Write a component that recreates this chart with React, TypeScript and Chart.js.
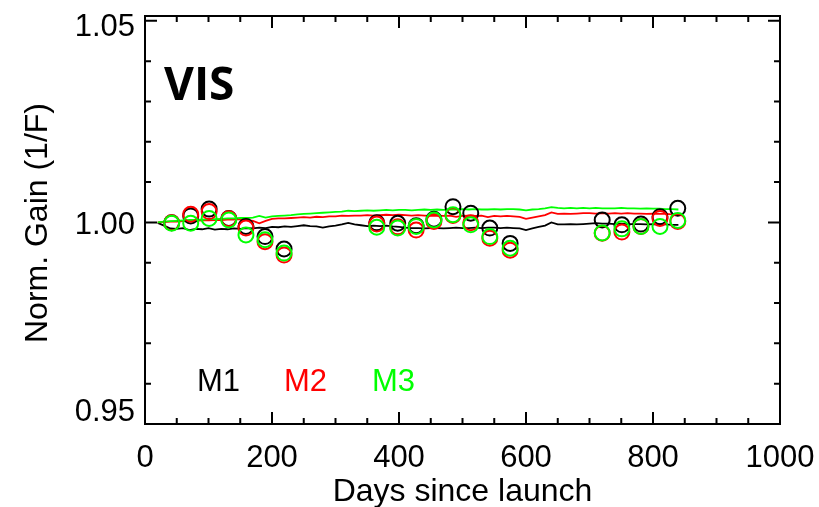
import React, { useEffect, useRef } from "react";
import { Chart, registerables } from "chart.js";

Chart.register(...registerables);

// Daily trend of the normalised gain for the three VIS mirrors (sampled every 10 days)
const lineDays = [
  20, 30, 40, 50, 60, 70, 80, 90, 100, 110, 120, 130, 140, 150, 160, 170, 180, 190, 200, 210,
  220, 230, 240, 250, 260, 270, 280, 290, 300, 310, 320, 330, 340, 350, 360, 370, 380, 390, 400, 410,
  420, 430, 440, 450, 460, 470, 480, 490, 500, 510, 520, 530, 540, 550, 560, 570, 580, 590, 600, 610,
  620, 630, 640, 650, 660, 670, 680, 690, 700, 710, 720, 730, 740, 750, 760, 770, 780, 790, 800, 810,
  820, 830, 840,
];

const m1Line = [
  0.9999, 0.9992, 0.9985, 0.9984, 0.9986, 0.9981, 0.9984, 0.9983, 0.9986, 0.9982, 0.9984, 0.9983, 0.9985, 0.9984, 0.9986, 0.9985, 0.9987, 0.9986, 0.9989, 0.9988,
  0.999, 0.9989, 0.9991, 0.9993, 0.9991, 0.999, 0.9987, 0.999, 0.9992, 0.9995, 0.9999, 0.9995, 0.9993, 0.9991, 0.9992, 0.9991, 0.9992, 0.999, 0.9989, 0.9987,
  0.9986, 0.9986, 0.9985, 0.9986, 0.9986, 0.9985, 0.9986, 0.9987, 0.9986, 0.9986, 0.9987, 0.9986, 0.9987, 0.9987, 0.9986, 0.9987, 0.9986, 0.9985, 0.9981, 0.9985,
  0.9989, 0.9992, 1.0, 0.9995, 0.9995, 0.9996, 0.9995, 0.9996, 0.9997, 0.9998, 0.9997, 0.9997, 0.9996, 0.9997, 0.9996, 0.9996, 0.9996, 0.9995, 0.9996, 0.9995,
  0.9995, 0.9994, 0.9994,
];

const m2Line = [
  1.0, 1.0001, 1.0002, 1.0002, 1.0003, 1.0003, 1.0004, 1.0005, 1.0005, 1.0006, 1.0006, 1.0007, 1.0007, 1.0008, 1.0006, 1.0004, 0.9998, 1.0004, 1.0009, 1.001,
  1.001, 1.0011, 1.0012, 1.0013, 1.0012, 1.0014, 1.0013, 1.0015, 1.0015, 1.0017, 1.0016, 1.0017, 1.0017, 1.0018, 1.0017, 1.0018, 1.0019, 1.0018, 1.0019, 1.0018,
  1.0017, 1.0018, 1.0017, 1.0016, 1.0017, 1.0016, 1.0017, 1.0014, 1.0016, 1.0017, 1.0016, 1.0017, 1.0013, 1.0016, 1.0015, 1.0016, 1.0015, 1.0014, 1.0009, 1.0012,
  1.0015, 1.0018, 1.0025, 1.0021, 1.0022, 1.0021, 1.0022, 1.0023, 1.0023, 1.0022, 1.0023, 1.0022, 1.0023, 1.0022, 1.0023, 1.0022, 1.0022, 1.0021, 1.0022, 1.0021,
  1.0021, 1.002, 1.002,
];

const m3Line = [
  1.0, 1.0002, 1.0003, 1.0004, 1.0005, 1.0006, 1.0006, 1.0007, 1.0008, 1.0008, 1.0009, 1.001, 1.001, 1.0011, 1.0011, 1.0012, 1.0016, 1.0012, 1.0015, 1.0016,
  1.0017, 1.0018, 1.002, 1.0021, 1.0022, 1.0023, 1.0024, 1.0025, 1.0026, 1.0027, 1.0029, 1.0028, 1.0029, 1.003, 1.0029, 1.003, 1.0031, 1.003, 1.0031, 1.0031,
  1.003, 1.0031, 1.0032, 1.0031, 1.0032, 1.0031, 1.0032, 1.0032, 1.0033, 1.0032, 1.0033, 1.0032, 1.0032, 1.0033, 1.0032, 1.0033, 1.0033, 1.0032, 1.003, 1.0032,
  1.0033, 1.0035, 1.0038, 1.0036, 1.0035, 1.0036, 1.0035, 1.0036, 1.0035, 1.0036, 1.0035, 1.0035, 1.0035, 1.0036, 1.0035, 1.0035, 1.0034, 1.0035, 1.0034, 1.0034,
  1.0033, 1.0033, 1.0032,
];

// Individual calibration measurements (drawn as open circles)
const calDays = [42, 72, 101, 132, 159, 189, 219, 365, 398, 427, 455, 485, 513, 543, 575, 720, 751, 781, 811, 839];
const m1Cal = [0.9999, 1.0016, 1.0033, 1.001, 0.999, 0.9965, 0.9934, 0.9999, 0.9998, 0.9992, 1.0008, 1.0039, 1.0023, 0.9986, 0.9948, 1.0006, 0.9994, 0.9996, 1.0014, 1.0035];
const m2Cal = [0.9999, 1.002, 1.0027, 1.0009, 0.9986, 0.9952, 0.9919, 0.9996, 0.9989, 0.9981, 1.0002, 1.0017, 0.9999, 0.9961, 0.9931, 0.9973, 0.9976, 0.999, 1.001, 1.0002];
const m3Cal = [0.9998, 0.9998, 1.001, 1.0006, 0.9969, 0.9957, 0.9924, 0.9988, 0.9986, 0.999, 1.0006, 1.0019, 0.9994, 0.9965, 0.9936, 0.9974, 0.9984, 0.999, 0.999, 1.0005];

const seriesNames = ["M1", "M2", "M3"];
const seriesColors = ["#000000", "#ff0000", "#00ff00"];

const xMajorTicks = [0, 200, 400, 600, 800, 1000];
const xMinorTicks = [50, 100, 150, 250, 300, 350, 450, 500, 550, 650, 700, 750, 850, 900, 950];
const yMajorTicks = [0.95, 1.0, 1.05];
const yMajorLabels = ["0.95", "1.00", "1.05"];
const yMinorTicks = [0.96, 0.97, 0.98, 0.99, 1.01, 1.02, 1.03, 1.04];

const panelTitle = "VIS";
const xTitle = "Days since launch";
const yTitle = "Norm. Gain (1/F)";

const TICK_FONT = '31px "Liberation Sans", Arial, Helvetica, sans-serif';
const TITLE_FONT = '32px "Liberation Sans", Arial, Helvetica, sans-serif';

const toPoints = (xs: number[], ys: number[]) => xs.map((x, i) => ({ x, y: ys[i] }));

// Frame, inward tick marks, labels and annotations in the IDL plot style
const framePlugin = {
  id: "idlFrame",
  afterDraw(chart: any) {
    const { ctx, chartArea, scales } = chart;
    const { left, right, top, bottom } = chartArea;
    const xs = scales.x;
    const ys = scales.y;
    const major = 12;
    const minor = 6;
    ctx.save();
    ctx.strokeStyle = "#000";
    ctx.lineWidth = 2;
    ctx.strokeRect(left, top, right - left, bottom - top);

    ctx.beginPath();
    const xTick = (v: number, len: number) => {
      const px = xs.getPixelForValue(v);
      ctx.moveTo(px, bottom);
      ctx.lineTo(px, bottom - len);
      ctx.moveTo(px, top);
      ctx.lineTo(px, top + len);
    };
    const yTick = (v: number, len: number) => {
      const py = ys.getPixelForValue(v);
      ctx.moveTo(left, py);
      ctx.lineTo(left + len, py);
      ctx.moveTo(right, py);
      ctx.lineTo(right - len, py);
    };
    xMajorTicks.forEach((v) => xTick(v, major));
    xMinorTicks.forEach((v) => xTick(v, minor));
    yMajorTicks.forEach((v) => yTick(v, major));
    yMinorTicks.forEach((v) => yTick(v, minor));
    ctx.stroke();

    ctx.fillStyle = "#000";
    ctx.font = TICK_FONT;
    ctx.textBaseline = "alphabetic";
    ctx.textAlign = "center";
    xMajorTicks.forEach((v) => {
      ctx.fillText(String(v), xs.getPixelForValue(v), bottom + 43);
    });

    ctx.textAlign = "right";
    const yLabelShift = [-3, 11.5, 15.3];
    yMajorTicks.forEach((v, i) => {
      ctx.fillText(yMajorLabels[i], left - 10, ys.getPixelForValue(v) + yLabelShift[i]);
    });

    ctx.font = TITLE_FONT;
    ctx.textAlign = "center";
    ctx.fillText(xTitle, (left + right) / 2, 501);

    ctx.save();
    ctx.translate(47, (top + bottom) / 2 + 3);
    ctx.rotate(-Math.PI / 2);
    ctx.fillText(yTitle, 0, 0);
    ctx.restore();

    ctx.textAlign = "left";
    ctx.font = 'bold 46px "Open Sans", "Liberation Sans", Arial, sans-serif';
    ctx.fillText(panelTitle, 164, 100);

    ctx.font = TICK_FONT;
    const legendX = [197, 284, 372];
    seriesNames.forEach((name, i) => {
      ctx.fillStyle = seriesColors[i];
      ctx.fillText(name, legendX[i], 391);
    });
    ctx.restore();
  },
};

export default function App() {
  const canvasRef = useRef<HTMLCanvasElement | null>(null);

  useEffect(() => {
    const canvas = canvasRef.current;
    if (!canvas) return;

    const lineSets = [m1Line, m2Line, m3Line].map((vals, i) => ({
      label: seriesNames[i] + " trend",
      data: toPoints(lineDays, vals),
      showLine: true,
      borderColor: seriesColors[i],
      borderWidth: 1.8,
      pointRadius: 0,
      fill: false,
      tension: 0,
      order: 5 - i,
    }));
    const calSets = [m1Cal, m2Cal, m3Cal].map((vals, i) => ({
      label: seriesNames[i],
      data: toPoints(calDays, vals),
      showLine: false,
      borderColor: seriesColors[i],
      backgroundColor: "rgba(0,0,0,0)",
      pointStyle: "circle",
      pointRadius: 7.5,
      pointBorderWidth: 2,
      pointBorderColor: seriesColors[i],
      pointBackgroundColor: "rgba(0,0,0,0)",
      order: 2 - i,
    }));

    const chart = new Chart(canvas, {
      type: "scatter",
      data: { datasets: [...lineSets, ...calSets] as any },
      plugins: [framePlugin],
      options: {
        animation: false,
        responsive: false,
        devicePixelRatio: 1,
        layout: { padding: { left: 145, right: 39, top: 16, bottom: 83 } },
        scales: {
          x: { type: "linear", min: 0, max: 1000, display: false },
          y: { type: "linear", min: 0.95, max: 1.0512, display: false },
        },
        plugins: {
          legend: { display: false },
          tooltip: { enabled: false },
        },
      },
    });
    return () => chart.destroy();
  }, []);

  return (
    <div style={{ position: "fixed", left: 0, top: 0, width: 819, height: 507, background: "#fff" }}>
      <canvas ref={canvasRef} width={819} height={507} style={{ display: "block", width: 819, height: 507 }} />
    </div>
  );
}
